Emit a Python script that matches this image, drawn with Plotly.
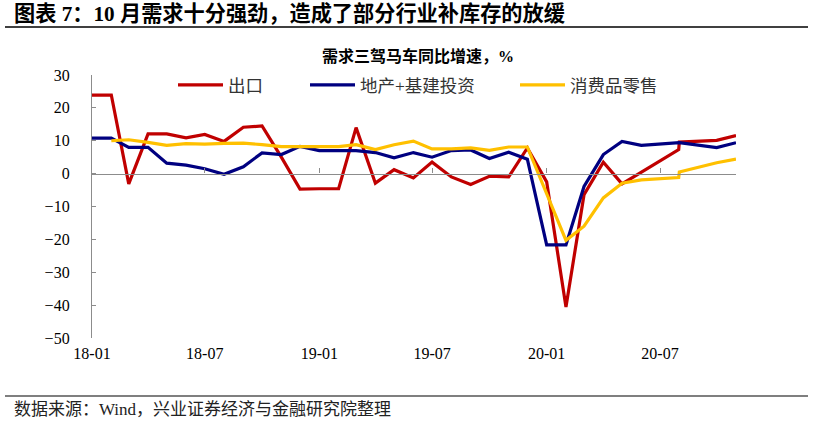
import plotly.graph_objects as go

# ---- data ----
dates = [
    "2018-01-01", "2018-02-01", "2018-03-01", "2018-04-01", "2018-05-01", "2018-06-01",
    "2018-07-01", "2018-08-01", "2018-09-01", "2018-10-01", "2018-11-01", "2018-12-01",
    "2019-01-01", "2019-02-01", "2019-03-01", "2019-04-01", "2019-05-01", "2019-06-01",
    "2019-07-01", "2019-08-01", "2019-09-01", "2019-10-01", "2019-11-01", "2019-12-01",
    "2020-01-01", "2020-02-01", "2020-03-01", "2020-04-01", "2020-05-01", "2020-06-01",
    "2020-07-31", "2020-08-01", "2020-09-30", "2020-10-31",
]
exports = [23.9, 23.9, -3.1, 12.1, 12.1, 10.9, 11.9, 9.8, 14.1, 14.5, 5.0, -4.7,
           -4.6, -4.6, 14.0, -2.9, 1.2, -1.3, 3.5, -1.0, -3.3, -0.8, -1.0, 7.8,
           -2.5, -40.6, -6.4, 3.5, -3.1, 0.5, 7.3, 9.6, 10.1, 11.6]
invest = [10.8, 10.8, 8.0, 8.0, 3.2, 2.6, 1.5, -0.2, 2.1, 6.3, 5.8, 8.3,
          7.0, 7.0, 7.0, 6.4, 4.8, 6.4, 5.0, 7.0, 7.2, 4.6, 6.5, 4.4,
          -21.7, -21.7, -3.9, 5.8, 9.8, 8.6, 9.4, 9.4, 7.9, 9.4]
retail = [None, 10.0, 10.3, 9.5, 8.6, 9.1, 9.0, 9.2, 9.3, 8.8, 8.2, 8.2,
          8.2, 8.2, 8.8, 7.3, 8.8, 9.9, 7.5, 7.5, 7.8, 7.1, 8.1, 8.1,
          None, -20.3, -16.0, -7.4, -2.9, -1.9, -1.2, 0.5, 3.3, 4.4]
series_names = ["出口", "地产+基建投资", "消费品零售"]
series_colors = ["#C00000", "#000080", "#FFC000"]
y_ticks = [30, 20, 10, 0, -10, -20, -30, -40, -50]

main_title = "图表 7：10 月需求十分强劲，造成了部分行业补库存的放缓"
chart_title = "需求三驾马车同比增速，%"
source_text = "数据来源：Wind，兴业证券经济与金融研究院整理"

# ---- layout geometry (pixels) ----
W, H = 813, 424
L, R, T, B = 92, 77, 75, 86
pw, ph = W - L - R, H - T - B


def px(x):
    return (x - L) / pw


def py(y):
    return (H - B - y) / ph


CJK = "Liberation Serif, Noto Sans CJK SC"
AX = "#8C8C8C"

fig = go.Figure()
legends = ["legend", "legend2", "legend3"]
for vals, name, col, lg in zip([exports, invest, retail], series_names, series_colors, legends):
    fig.add_trace(go.Scatter(
        x=dates, y=vals, name=name, mode="lines",
        line=dict(color=col, width=3.2), connectgaps=True, legend=lg,
    ))

# invisible trace to carry the zero-crossing axis
fig.add_trace(go.Scatter(x=[dates[0]], y=[None], xaxis="x2", showlegend=False,
                         hoverinfo="skip"))

leg_common = dict(orientation="h", yanchor="middle", xanchor="left",
                  bgcolor="rgba(0,0,0,0)", font=dict(family=CJK, size=17.5, color="#333333"),
                  itemwidth=45)
legend_x = [173, 305, 515]

fig.update_layout(
    width=W, height=H,
    margin=dict(l=L, r=R, t=T, b=B, pad=0),
    paper_bgcolor="white", plot_bgcolor="white",
    showlegend=True,
    legend=dict(x=px(legend_x[0]), y=py(85), **leg_common),
    legend2=dict(x=px(legend_x[1]), y=py(85), **leg_common),
    legend3=dict(x=px(legend_x[2]), y=py(85), **leg_common),
    xaxis=dict(
        type="date", range=[dates[0], dates[-1]],
        tick0="2018-01-01", dtick="M6", tickformat="%y-%m",
        showline=False, ticks="", showgrid=False, zeroline=False,
        tickfont=dict(family="Liberation Serif", size=16, color="black"),
        ticklabelstandoff=4,
    ),
    xaxis2=dict(
        type="date", range=[dates[0], dates[-1]], overlaying="x",
        anchor="free", position=(0 - y_ticks[-1]) / (y_ticks[0] - y_ticks[-1]),
        side="bottom", tick0="2018-01-01", dtick="M6",
        showline=True, linecolor=AX, linewidth=1.3,
        ticks="inside", ticklen=5, tickcolor=AX, tickwidth=1.3,
        showticklabels=False, showgrid=False, zeroline=False,
    ),
    yaxis=dict(
        range=[y_ticks[-1], y_ticks[0]], tickvals=y_ticks,
        showline=True, linecolor=AX, linewidth=1.3,
        ticks="inside", ticklen=4, tickcolor=AX, tickwidth=1.3,
        showgrid=False, zeroline=False,
        tickfont=dict(family="Liberation Serif", size=16, color="black"),
        ticklabelstandoff=18,
    ),
    annotations=[
        dict(text=f"<b>{main_title}</b>", xref="paper", yref="paper",
             x=px(12), y=py(14), xanchor="left", yanchor="middle", showarrow=False,
             font=dict(family=CJK, size=21.2, color="black")),
        dict(text=f"<b>{chart_title}</b>", xref="paper", yref="paper",
             x=px(418), y=py(56), xanchor="center", yanchor="middle", showarrow=False,
             font=dict(family=CJK, size=16, color="black")),
        dict(text=source_text, xref="paper", yref="paper",
             x=px(12), y=py(409), xanchor="left", yanchor="middle", showarrow=False,
             font=dict(family=CJK, size=17, color="#222222")),
    ],
    shapes=[
        dict(type="line", xref="paper", yref="paper", x0=px(5), x1=px(808),
             y0=py(27), y1=py(27), line=dict(color="black", width=1.5)),
        dict(type="line", xref="paper", yref="paper", x0=px(5), x1=px(808),
             y0=py(396), y1=py(396), line=dict(color="black", width=1.2)),
    ],
)

fig.write_html("out.html", config={"displayModeBar": False},
               post_script="document.body.style.margin='0';")
